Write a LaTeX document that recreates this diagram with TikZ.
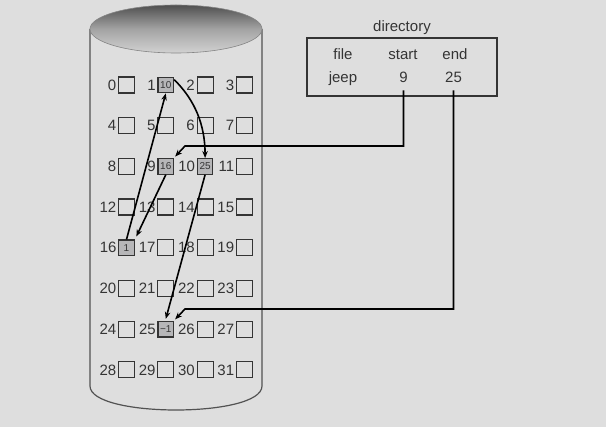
\documentclass[tikz,border=0pt]{standalone}
\usepackage{fontspec}
\setmainfont{Liberation Sans}
\usetikzlibrary{arrows.meta}
\definecolor{bg}{RGB}{222,222,222}
\definecolor{ink}{RGB}{52,52,52}
\definecolor{cell}{RGB}{182,182,184}
\definecolor{lidtop}{RGB}{80,80,80}
\definecolor{lidbot}{RGB}{210,210,210}
\begin{document}
\begin{tikzpicture}[x=1pt,y=-1pt,
  lab/.style={anchor=east, inner sep=0pt, text=ink, font=\fontsize{15}{16}\selectfont},
  blk/.style={draw=ink, line width=1.2pt, minimum size=16pt, inner sep=0pt},
  used/.style={blk, fill=cell, minimum size=15.5pt, font=\fontsize{10}{11}\selectfont, text=ink},
  arr/.style={line width=1.6pt, -{Stealth[length=7pt,width=5.5pt]}},
  dtext/.style={anchor=base, text=ink, inner sep=0pt, font=\fontsize{15}{16}\selectfont},
]
\fill[bg] (0,0) rectangle (606,427);
\useasboundingbox (0,0) rectangle (606,427);
% cylinder
\draw[draw=ink!85, line width=1.2pt] (90,29) -- (90,386) .. controls (90,418) and (262,418) .. (262,386) -- (262,29);
\shade[top color=lidtop, bottom color=lidbot, middle color=gray!72] (176,29) ellipse[x radius=86, y radius=24];
\draw[draw=ink!60, line width=0.6pt] (176,29) ellipse[x radius=86, y radius=24];
% empty blocks
\foreach \n in {0,2,3,4,5,6,7,8,11,12,13,14,15,17,18,19,20,21,22,23,24,26,27,28,29,30,31}{
  \pgfmathtruncatemacro\c{mod(\n,4)}
  \pgfmathtruncatemacro\r{\n/4}
  \node[blk] (b\n) at ({126.5+39.3*\c},{85+40.7*\r}) {};
}
% used blocks
\foreach \n/\t in {1/10,9/16,10/25,16/1,25/{−1}}{
  \pgfmathtruncatemacro\c{mod(\n,4)}
  \pgfmathtruncatemacro\r{\n/4}
  \node[used] (b\n) at ({126.5+39.3*\c},{85+40.7*\r}) {\t};
}
% labels
\foreach \n in {0,...,31}{
  \node[lab] (l\n) at ([xshift=-1.5pt]b\n.west) {\n};
}
% directory
\node[dtext] (dir) at (402,32) {directory};
\node[draw=ink, line width=1.1pt, minimum width=190pt, minimum height=58pt, inner sep=0pt] (dbox) at (402,67) {};
\node[dtext] (hfile) at (343,60) {file};
\node[dtext] (hstart) at (403,60) {start};
\node[dtext] (hend) at (455,60) {end};
\node[dtext] (djeep) at (343,83) {jeep};
\node[dtext] (d9) at (403.5,83) {9};
\node[dtext] (d25) at (453.5,83) {25};
\coordinate (k9) at (185,146);
\coordinate (k25) at (185,309);
% links
\draw[arr] ([yshift=-7pt]d9.south) |- (k9) -- ([xshift=1pt,yshift=1.5pt]b9.north east);
\draw[arr] ([yshift=-7pt]d25.south) |- (k25) -- ([xshift=1pt,yshift=1.5pt]b25.north east);
\draw[arr] (b9.south) -- ([xshift=1.5pt,yshift=3pt]b16.north east);
\draw[arr] (b16.north) -- (b1.south);
\draw[arr] ([yshift=-3pt]b1.north east) .. controls (195,100) and (205,125) .. (b10.north);
\draw[arr] (b10.south) -- ([yshift=2pt]b25.north);
\end{tikzpicture}
\end{document}
